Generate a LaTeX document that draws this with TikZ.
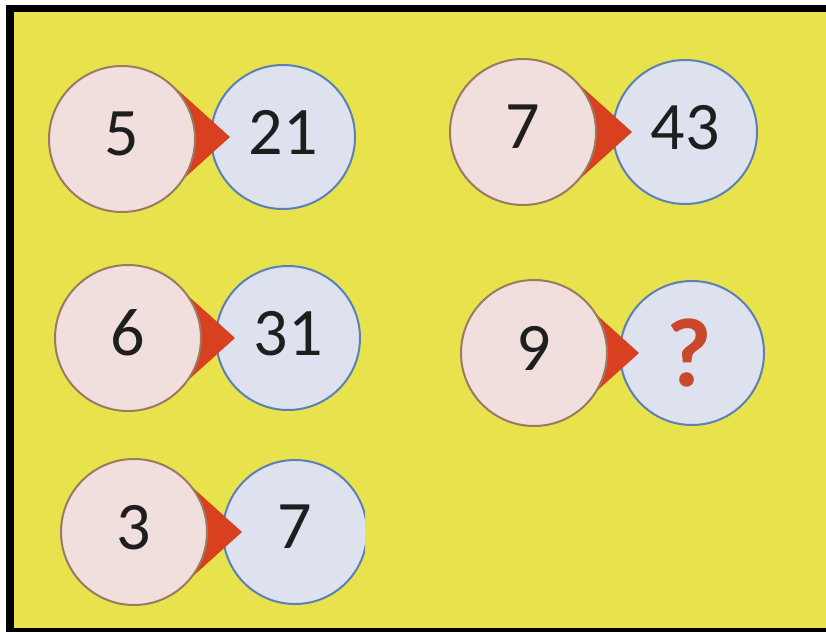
\documentclass[tikz,border=0pt]{standalone}
\usepackage{fontspec}
\setmainfont{Carlito}
\usetikzlibrary{calc}
\definecolor{bgyellow}{HTML}{E8E34C}
\definecolor{lfill}{HTML}{F0DFDD}
\definecolor{ldraw}{HTML}{9C7A62}
\definecolor{rfill}{HTML}{DEE1EE}
\definecolor{rdraw}{HTML}{5A80B8}
\definecolor{arrowred}{HTML}{D8401F}
\definecolor{qred}{HTML}{C9472B}
\definecolor{numcol}{HTML}{1E1E1E}
\begin{document}
\begin{tikzpicture}[x=1pt,y=-1pt,
  numfont/.style={font=\fontsize{68}{68}\selectfont,text=numcol},
  lcirc/.style={circle,draw=ldraw,fill=lfill,line width=2pt,minimum size=146pt,inner sep=0pt,numfont},
  rcirc/.style={circle,draw=rdraw,fill=rfill,line width=2pt,minimum size=144pt,inner sep=0pt,numfont},
  pointer/.style={fill=arrowred,draw=none}]
\useasboundingbox (0,0) rectangle (826,631);
\fill[white] (-10,-10) rectangle (840,641);
\fill[black] (6,5) rectangle (840,641);
\fill[bgyellow] (14,12) rectangle (840,628);
% pair 1
\node[rcirc] (r1) at (283,137) {\raisebox{10pt}{21}};
\fill[pointer] ($(r1.west)+(20,0)$) coordinate (t1) -- ($(t1)+(-60,-54)$) -- ($(t1)+(-60,54)$) -- cycle;
\node[lcirc] (l1) at (122,139) {\raisebox{10pt}{5}};
% pair 2
\node[rcirc] (r2) at (685,132) {\raisebox{10pt}{43}};
\fill[pointer] ($(r2.west)+(20,0)$) coordinate (t2) -- ($(t2)+(-60,-54)$) -- ($(t2)+(-60,54)$) -- cycle;
\node[lcirc] (l2) at (523,132) {\raisebox{10pt}{7}};
% pair 3
\node[rcirc] (r3) at (288,338) {\raisebox{10pt}{31}};
\fill[pointer] ($(r3.west)+(20,0)$) coordinate (t3) -- ($(t3)+(-60,-54)$) -- ($(t3)+(-60,54)$) -- cycle;
\node[lcirc] (l3) at (128,338) {\raisebox{10pt}{6}};
% pair 4
\node[rcirc,font=\fontsize{98}{98}\selectfont\bfseries,text=qred] (r4) at (692,353) {\hspace*{-6pt}?};
\fill[pointer] ($(r4.west)+(20,0)$) coordinate (t4) -- ($(t4)+(-60,-54)$) -- ($(t4)+(-60,54)$) -- cycle;
\node[lcirc] (l4) at (534,353) {\raisebox{10pt}{9}};
% pair 5
\begin{scope}
  \clip (0,0) rectangle (365,631);
  \node[rcirc] (r5) at (295,532) {\raisebox{10pt}{7}};
\end{scope}
\fill[pointer] ($(r5.west)+(20,0)$) coordinate (t5) -- ($(t5)+(-60,-54)$) -- ($(t5)+(-60,54)$) -- cycle;
\node[lcirc] (l5) at (134,532) {\raisebox{10pt}{3}};
\end{tikzpicture}
\end{document}
